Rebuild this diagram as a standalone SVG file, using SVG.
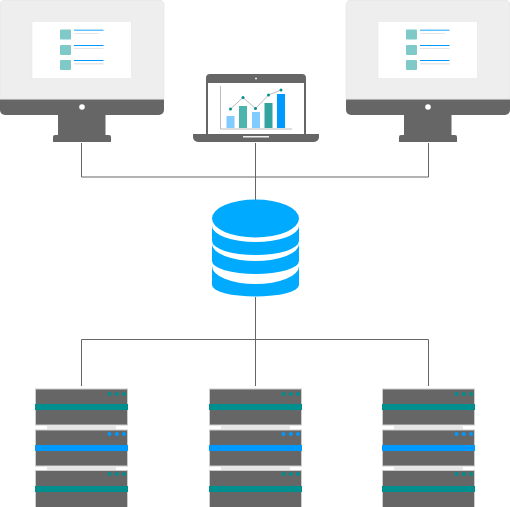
<svg xmlns="http://www.w3.org/2000/svg" width="510" height="507" viewBox="0 0 510 507">
<style>
.dark{fill:#666}
.wire{fill:none;stroke:#666;stroke-width:1}
.teal{fill:#008f8f}
.blue{fill:#0099ff}
.db{fill:#00aaff}
.box{fill:#666;stroke:#ccc;stroke-width:1}
.icon{fill:#80c9c9}
</style>
<defs>
<g id="monitor">
<path d="M5 0H159a5 5 0 0 1 5 5V99H0V5a5 5 0 0 1 5-5Z" fill="#eee" stroke="#ddd" stroke-width="0.5"/>
<path d="M0 99.500H164V110a5 5 0 0 1-5 5H5a5 5 0 0 1-5-5Z" class="dark"/>
<circle cx="82" cy="107" r="2.800" fill="#fff"/>
<rect x="58" y="115" width="47.500" height="20" class="dark"/>
<path d="M55 135H109a2 2 0 0 1 2 2V142H53V137a2 2 0 0 1 2-2Z" class="dark"/>
<rect x="32" y="21.500" width="99.500" height="57" fill="#fff" stroke="#e6e6e6" stroke-width="0.600"/>
<rect x="60" y="29.500" width="11" height="10" rx="1" class="icon"/>
<rect x="60" y="45" width="11" height="10" rx="1" class="icon"/>
<rect x="60" y="60" width="11" height="10" rx="1" class="icon"/>
<rect x="74" y="29.500" width="29.500" height="1.500" fill="#66c2ff"/>
<rect x="74" y="33" width="25" height="1" fill="#e6e6e6"/>
<rect x="74" y="45" width="29.500" height="1" class="blue"/>
<rect x="74" y="48" width="29.500" height="1" fill="#e6e6e6"/>
<rect x="74" y="60" width="29.500" height="1" class="blue"/>
<rect x="74" y="63" width="29.500" height="1.500" fill="#e6e6e6"/>
</g>
<g id="server">
<rect x="35.500" y="389" width="92" height="36" class="box"/>
<rect x="35" y="404" width="93" height="6" class="teal"/>
<circle cx="109.500" cy="394" r="2" class="teal"/><circle cx="116.800" cy="394" r="2" class="teal"/><circle cx="124" cy="394" r="2" class="teal"/>
<rect x="47" y="425.500" width="69" height="4" fill="#e6e6e6"/>
<rect x="35.500" y="430" width="92" height="36" class="box"/>
<rect x="35" y="445" width="93" height="6" class="blue"/>
<circle cx="109.500" cy="434" r="2" class="blue"/><circle cx="116.800" cy="434" r="2" class="blue"/><circle cx="124" cy="434" r="2" class="blue"/>
<rect x="47" y="466.500" width="69" height="4" fill="#e6e6e6"/>
<rect x="35.500" y="470.500" width="92" height="37" class="box"/>
<rect x="35" y="486" width="93" height="6" class="teal"/>
<circle cx="109.500" cy="474" r="2" class="teal"/><circle cx="116.800" cy="474" r="2" class="teal"/><circle cx="124" cy="474" r="2" class="teal"/>
</g>
</defs>
<g id="connectors">
<path class="wire" d="M81.500 143V177H428.500V143M255.500 143V200"/>
<path class="wire" d="M255.500 297V386M81.500 386V339.500H428.500V386"/>
</g>
<g id="monitor-left"><use href="#monitor"/></g>
<g id="monitor-right"><use href="#monitor" x="346"/></g>
<g id="laptop">
<path d="M210 74H302a4 4 0 0 1 4 4V134H206V78a4 4 0 0 1 4-4Z" class="dark"/>
<rect x="208" y="83" width="96" height="51" fill="#fff"/>
<circle cx="256" cy="78.500" r="1" fill="#eee"/>
<path d="M193 134H319V137a5 5 0 0 1-5 5H198a5 5 0 0 1-5-5Z" class="dark"/>
<rect x="243" y="136" width="26" height="1.500" fill="#eee"/>
<path d="M220.500 86V129H292" fill="none" stroke="#bbb" stroke-width="1"/>
<rect x="226.500" y="116" width="8" height="12" fill="#80ccff"/>
<rect x="239" y="106" width="8" height="22" fill="#4db3ad"/>
<rect x="252" y="112" width="8" height="16" fill="#80ccff"/>
<rect x="264.500" y="103" width="8" height="25" fill="#33a3a0"/>
<rect x="277" y="94" width="8" height="34" class="blue"/>
<path d="M230.500 109L243 97.500L255.500 108.500L268.500 95L281 90" fill="none" stroke="#aaa" stroke-width="0.800"/>
<g class="teal"><circle cx="230.500" cy="109" r="1.500"/><circle cx="243" cy="97.500" r="1.500"/><circle cx="255.500" cy="108.500" r="1.500"/><circle cx="268.500" cy="95" r="1.500"/><circle cx="281" cy="90" r="1.500"/></g>
</g>
<g id="database">
<ellipse cx="255.500" cy="218.500" rx="43.500" ry="19" class="db"/>
<path class="db" d="M212 226A43.500 16 0 0 0 299 226V241A43.500 14 0 0 1 212 241Z"/>
<path class="db" d="M212 244A43.500 17 0 0 0 299 244V261A43.500 13 0 0 1 212 261Z"/>
<path class="db" d="M212 266A43.500 18 0 0 0 299 266V285A43.500 11.500 0 0 1 212 285Z"/>
</g>
<g id="server-left"><use href="#server"/></g>
<g id="server-middle"><use href="#server" x="174"/></g>
<g id="server-right"><use href="#server" x="347"/></g>
</svg>
